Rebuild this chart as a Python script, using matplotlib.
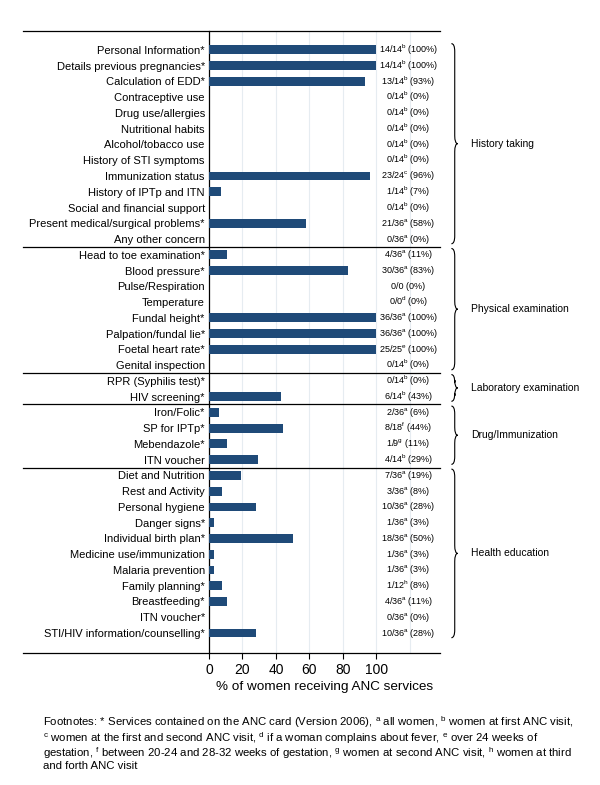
import matplotlib
matplotlib.use('Agg')
import matplotlib.pyplot as plt
from matplotlib.path import Path
from matplotlib.patches import PathPatch
import matplotlib.transforms as mtransforms

plt.rcParams['font.family'] = ['Liberation Sans', 'DejaVu Sans']
plt.rcParams['mathtext.fontset'] = 'custom'
plt.rcParams['mathtext.rm'] = 'Liberation Sans'
plt.rcParams['mathtext.it'] = 'Liberation Sans'

# ---- data ----
groups = ['History taking', 'Physical examination', 'Laboratory examination',
          'Drug/Immunization', 'Health education']
group_sizes = [13, 8, 2, 4, 11]

services = [
    'Personal Information*', 'Details previous pregnancies*', 'Calculation of EDD*',
    'Contraceptive use', 'Drug use/allergies', 'Nutritional habits', 'Alcohol/tobacco use',
    'History of STI symptoms', 'Immunization status', 'History of IPTp and ITN',
    'Social and financial support', 'Present medical/surgical problems*', 'Any other concern',
    'Head to toe examination*', 'Blood pressure*', 'Pulse/Respiration', 'Temperature',
    'Fundal height*', 'Palpation/fundal lie*', 'Foetal heart rate*', 'Genital inspection',
    'RPR (Syphilis test)*', 'HIV screening*',
    'Iron/Folic*', 'SP for IPTp*', 'Mebendazole*', 'ITN voucher',
    'Diet and Nutrition', 'Rest and Activity', 'Personal hygiene', 'Danger signs*',
    'Individual birth plan*', 'Medicine use/immunization', 'Malaria prevention',
    'Family planning*', 'Breastfeeding*', 'ITN voucher*', 'STI/HIV information/counselling*',
]
n_received = [14, 14, 13, 0, 0, 0, 0, 0, 23, 1, 0, 21, 0,
              4, 30, 0, 0, 36, 36, 25, 0,
              0, 6,
              2, 8, 1, 4,
              7, 3, 10, 1, 18, 1, 1, 1, 4, 0, 10]
n_total = [14, 14, 14, 14, 14, 14, 14, 14, 24, 14, 14, 36, 36,
           36, 36, 0, 0, 36, 36, 25, 14,
           14, 14,
           36, 18, 9, 14,
           36, 36, 36, 36, 36, 36, 36, 12, 36, 36, 36]
note = ['b', 'b', 'b', 'b', 'b', 'b', 'b', 'b', 'c', 'b', 'b', 'a', 'a',
        'a', 'a', '', 'd', 'a', 'a', 'e', 'b',
        'b', 'b',
        'a', 'f', 'g', 'b',
        'a', 'a', 'a', 'a', 'a', 'a', 'a', 'h', 'a', 'a', 'a']
percent = [100, 100, 93, 0, 0, 0, 0, 0, 96, 7, 0, 58, 0,
           11, 83, 0, 0, 100, 100, 100, 0,
           0, 43,
           6, 44, 11, 29,
           19, 8, 28, 3, 50, 3, 3, 8, 11, 0, 28]

footnote_lines = [
    r'Footnotes: * Services contained on the ANC card (Version 2006), $^\mathrm{a}$ all women, $^\mathrm{b}$ women at first ANC visit,',
    r'$^\mathrm{c}$ women at the first and second ANC visit, $^\mathrm{d}$ if a woman complains about fever, $^\mathrm{e}$ over 24 weeks of',
    r'gestation, $^\mathrm{f}$ between 20-24 and 28-32 weeks of gestation, $^\mathrm{g}$ women at second ANC visit, $^\mathrm{h}$ women at third',
    'and forth ANC visit',
]

bar_color = '#1f4a78'
W, H = 600, 785

fig = plt.figure(figsize=(W / 100, H / 100), dpi=100)
ax = fig.add_axes([209 / W, 1 - 652.7 / H, (440 - 209) / W, (652.7 - 31) / H])

rows = list(range(len(services)))
ax.barh(rows, percent, height=0.56, color=bar_color, zorder=3)

ax.set_xlim(0, 138)
ax.set_ylim(len(services) - 1 + 1.25, -1.2)

for gx in range(20, 121, 20):
    ax.axvline(gx, color='#e6ecf1', lw=0.8, zorder=0)

ax.set_yticks(rows)
ax.set_yticklabels(services, fontsize=8)
ax.tick_params(axis='y', length=0, pad=3)
ax.set_xticks(range(0, 101, 20))
ax.tick_params(axis='x', labelsize=10, length=4, width=0.8, pad=3.5)
ax.set_xlabel('% of women receiving ANC services', fontsize=9.7, labelpad=3)

for s in ['top', 'right', 'bottom']:
    ax.spines[s].set_visible(False)
ax.spines['left'].set_linewidth(0.9)

# value labels
for i in rows:
    sup = r'$^\mathrm{%s}$' % note[i] if note[i] else ''
    txt = f'{n_received[i]}/{n_total[i]}{sup} ({percent[i]}%)'
    ax.text(119, i, txt, ha='center', va='center', fontsize=6.5)

# horizontal rules and braces
trans = mtransforms.blended_transform_factory(ax.transAxes, ax.transData)
x_left = (23 - 209) / (440 - 209)
ylo, yhi = ax.get_ylim()
for yy in [ylo, yhi]:
    ax.plot([x_left, 1], [yy, yy], color='black', lw=0.9, transform=trans, clip_on=False)

start = 0
for g, size in zip(groups, group_sizes):
    end = start + size - 1
    if end < len(services) - 1:
        ax.plot([x_left, 1], [end + 0.5, end + 0.5], color='black', lw=0.9,
                transform=trans, clip_on=False)
    yt, yb = start - 0.4, end + 0.3
    ym = (yt + yb) / 2
    x0, x1, x2 = 144.8, 146.8, 148.6
    r = 0.5
    verts = [(x0, yt), (x1, yt), (x1, yt + r), (x1, ym - r), (x1, ym), (x2, ym),
             (x1, ym), (x1, ym + r), (x1, yb - r), (x1, yb), (x0, yb)]
    codes = [Path.MOVETO, Path.CURVE3, Path.CURVE3, Path.LINETO, Path.CURVE3, Path.CURVE3,
             Path.CURVE3, Path.CURVE3, Path.LINETO, Path.CURVE3, Path.CURVE3]
    ax.add_patch(PathPatch(Path(verts, codes), fill=False, lw=0.8, edgecolor='black',
                           clip_on=False))
    ax.text(156.5, ym, g, ha='left', va='center', fontsize=7.5, clip_on=False)
    start = end + 1

# footnotes
fig.text(43 / W, 1 - 714 / H, '\n'.join(footnote_lines), ha='left', va='top',
         fontsize=8.2, linespacing=1.0)

fig.savefig('out.png', dpi=100)
